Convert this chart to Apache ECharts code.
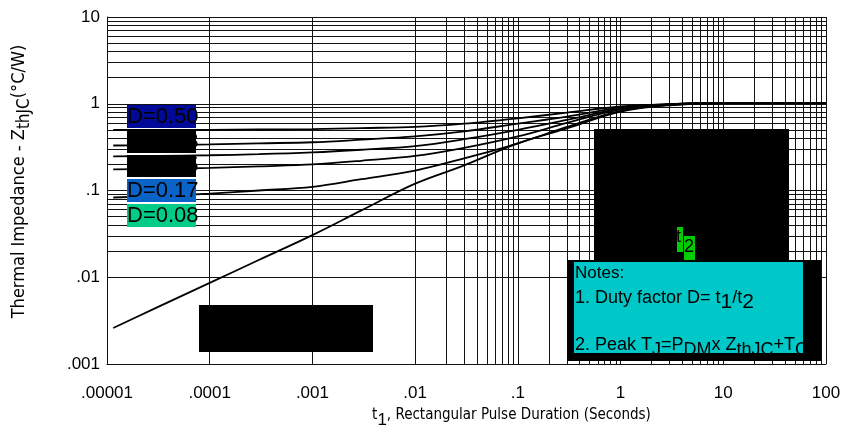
<!DOCTYPE html>
<html><head><meta charset="utf-8">
<script src="https://cdn.jsdelivr.net/npm/echarts@6/dist/echarts.min.js"></script>
<style>html,body{margin:0;padding:0;background:#fff}#c{width:846px;height:434px}</style>
</head><body><div id="c"></div>
<script>
// ---- data ----
const times      = [1.15e-5, 3e-5, 1e-4, 3e-4, 1e-3, 3e-3, 0.01, 0.03, 0.1, 0.3, 1, 3, 10, 100];
const dutyLabels = ['D=0.50', 'D=0.33', 'D=0.25', 'D=0.17', 'D=0.08'];
const d50        = [0.50, 0.50, 0.50, 0.505, 0.51, 0.525, 0.54, 0.59, 0.68, 0.79, 0.93, 0.99, 1.02, 1.02];
const d33        = [0.33, 0.333, 0.34, 0.35, 0.36, 0.385, 0.42, 0.48, 0.59, 0.71, 0.90, 0.99, 1.02, 1.02];
const d25        = [0.248, 0.25, 0.255, 0.262, 0.275, 0.295, 0.325, 0.39, 0.50, 0.65, 0.88, 0.98, 1.02, 1.02];
const d17        = [0.175, 0.177, 0.182, 0.19, 0.20, 0.22, 0.25, 0.31, 0.42, 0.60, 0.86, 0.98, 1.02, 1.02];
const d08        = [0.083, 0.086, 0.092, 0.10, 0.11, 0.135, 0.17, 0.235, 0.35, 0.54, 0.83, 0.97, 1.02, 1.02];
const single     = [0.0026, 0.00444, 0.0086, 0.0158, 0.0306, 0.059, 0.12, 0.195, 0.35, 0.52, 0.81, 0.96, 1.02, 1.02];
const xTickLabels = ['.00001', '.0001', '.001', '.01', '.1', '1', '10', '100'];
const yTickLabels = ['.001', '.01', '.1', '1', '10'];
const xDecades = [-5, -4, -3, -2, -1, 0, 1];
const yDecades = [-3, -2, -1, 0];
const minorSteps = [2, 3, 4, 5, 6, 7, 8, 9];

// ---- build ----
const REG = 'Liberation Sans, Arial, sans-serif';
const NAR = 'Liberation Sans Narrow, Arial Narrow, DejaVu Sans Condensed, Liberation Sans, sans-serif';
const pair = arr => times.map((t, i) => [t, arr[i]]);
const minorLines = [];
xDecades.forEach(e => minorSteps.forEach(m => minorLines.push({ xAxis: m * Math.pow(10, e) })));
yDecades.forEach(e => minorSteps.forEach(m => minorLines.push({ yAxis: m * Math.pow(10, e) })));

const gridLine = { color: '#111', width: 1 };
const curveStyle = { color: '#000', width: 1.8 };
const curve = (name, arr) => ({
  name, type: 'line', data: pair(arr), smooth: 0.35,
  symbol: 'none', lineStyle: curveStyle, z: 5
});

const chart = echarts.init(document.getElementById('c'), null, { renderer: 'canvas' });
chart.setOption({
  animation: false,
  backgroundColor: '#fff',
  grid: { left: 107, right: 20, top: 17, bottom: 65 },
  xAxis: {
    type: 'log', logBase: 10, min: 1e-5, max: 100, splitNumber: 7,
    axisLine: { show: true, lineStyle: { color: '#111', width: 1 } },
    axisTick: { show: false },
    splitLine: { show: true, lineStyle: gridLine },
    axisLabel: {
      margin: 21, color: '#000', fontFamily: REG, fontSize: 17,
      formatter: v => xTickLabels[Math.round(Math.log10(v)) + 5]
    },
    name: 't{s|1}, Rectangular Pulse Duration (Seconds)',
    nameLocation: 'middle', nameGap: 37,
    nameTextStyle: {
      color: '#000', fontFamily: NAR, fontSize: 15, padding: [0, 0, 0, 90],
      rich: { s: { fontFamily: REG, fontSize: 17, padding: [11, 0, 0, 0], verticalAlign: 'bottom' } }
    }
  },
  yAxis: {
    type: 'log', logBase: 10, min: 0.001, max: 10, splitNumber: 4,
    axisLine: { show: true, lineStyle: { color: '#111', width: 1 } },
    axisTick: { show: false },
    splitLine: { show: true, lineStyle: gridLine },
    axisLabel: {
      margin: 7, color: '#000', fontFamily: REG, fontSize: 17,
      formatter: v => yTickLabels[Math.round(Math.log10(v)) + 3]
    },
    name: 'Thermal Impedance - Z{s|thJC}(°C/W)',
    nameLocation: 'middle', nameGap: 74, nameRotate: 90,
    nameTextStyle: {
      color: '#000', fontFamily: NAR, fontSize: 18, padding: [0, 0, 0, 18],
      rich: { s: { fontFamily: NAR, fontSize: 17, padding: [10, 0, 0, 0], verticalAlign: 'bottom' } }
    }
  },
  series: [
    {
      name: 'grid', type: 'line', data: [[1e-5, 0.001]], symbol: 'none', silent: true, z: 1,
      lineStyle: { opacity: 0 },
      markLine: {
        silent: true, symbol: 'none', label: { show: false }, animation: false,
        lineStyle: { color: '#111', width: 1, type: 'solid' },
        emphasis: { disabled: true },
        data: minorLines
      }
    },
    curve(dutyLabels[0], d50),
    curve(dutyLabels[1], d33),
    curve(dutyLabels[2], d25),
    curve(dutyLabels[3], d17),
    curve(dutyLabels[4], d08),
    curve('Single Pulse', single)
  ],
  graphic: [
    // duty factor tags
    { type: 'rect', shape: { x: 127, y: 105, width: 69, height: 23 }, style: { fill: '#000a96' }, z: 20 },
    { type: 'rect', shape: { x: 127, y: 130, width: 69, height: 23 }, style: { fill: '#000' }, z: 20 },
    { type: 'rect', shape: { x: 127, y: 155, width: 69, height: 22 }, style: { fill: '#000' }, z: 20 },
    { type: 'rect', shape: { x: 127, y: 179, width: 69, height: 23 }, style: { fill: '#0a64c8' }, z: 20 },
    { type: 'rect', shape: { x: 127, y: 204, width: 69, height: 23 }, style: { fill: '#00cc88' }, z: 20 },
    ...dutyLabels.map((t, i) => ({
      type: 'text', x: 127, y: [117, 142, 166, 191, 216][i], z: 21,
      style: { text: t, fill: '#000', font: '22px ' + REG, textVerticalAlign: 'middle' }
    })),
    // big black block with t2 tag
    { type: 'rect', shape: { x: 594, y: 129, width: 195, height: 131 }, style: { fill: '#000' }, z: 20 },
    { type: 'rect', shape: { x: 677, y: 227, width: 6, height: 25 }, style: { fill: '#00cc00' }, z: 21 },
    { type: 'rect', shape: { x: 684, y: 236, width: 11, height: 24 }, style: { fill: '#00cc00' }, z: 21 },
    { type: 'text', x: 676, y: 228, z: 22, style: { text: 't', fill: '#000', font: '18px ' + REG } },
    { type: 'text', x: 684, y: 238, z: 22, style: { text: '2', fill: '#000', font: '18px ' + REG } },
    // notes box
    { type: 'rect', shape: { x: 567, y: 260, width: 254, height: 101 }, style: { fill: '#000' }, z: 20 },
    { type: 'rect', shape: { x: 574, y: 262, width: 229, height: 91 }, style: { fill: '#00c8c8' }, z: 21 },
    { type: 'text', x: 575, y: 265, z: 22, style: { text: 'Notes:', fill: '#000', font: '17px ' + REG } },
    { type: 'text', x: 575, y: 284, z: 22, style: {
        text: '1. Duty factor D= t{s|1}/t{s|2}', fill: '#000', font: '18px ' + REG,
        rich: { s: { fontSize: 21, fontFamily: REG, padding: [8, 0, 0, 0], verticalAlign: 'bottom' } } } },
    { type: 'text', x: 575, y: 331, z: 22, style: {
        text: '2. Peak T{s|J}=P{s|DM}x Z{s|thJC}+T{s|C}', fill: '#000', font: '18px ' + REG,
        rich: { s: { fontSize: 18, fontFamily: REG, padding: [10, 0, 0, 0], verticalAlign: 'bottom' } } } },
    { type: 'rect', shape: { x: 803, y: 262, width: 18, height: 99 }, style: { fill: '#000' }, z: 23 },
    // lower-left black block
    { type: 'rect', shape: { x: 199, y: 305, width: 174, height: 47 }, style: { fill: '#000' }, z: 20 }
  ]
});
</script>
</body></html>
